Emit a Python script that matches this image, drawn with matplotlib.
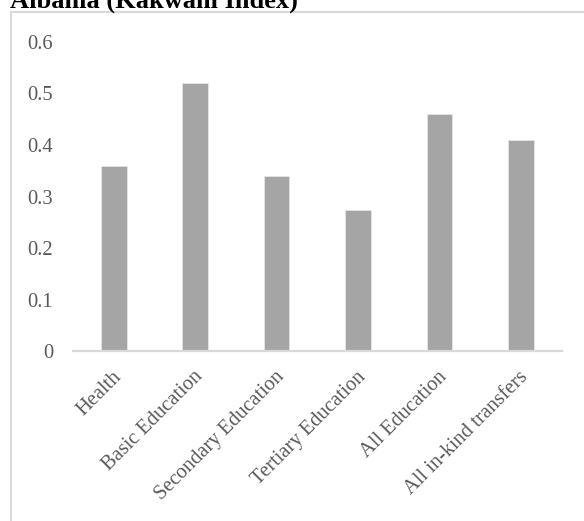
import matplotlib
matplotlib.use('Agg')
import matplotlib.pyplot as plt
import matplotlib.transforms as mtransforms
from matplotlib.lines import Line2D

categories = ['Health', 'Basic Education', 'Secondary Education',
              'Tertiary Education', 'All Education', 'All in-kind transfers']
kakwani = [0.36, 0.52, 0.34, 0.274, 0.46, 0.41]
yticks = [0, 0.1, 0.2, 0.3, 0.4, 0.5, 0.6]
yticklabels = ['0', '0.1', '0.2', '0.3', '0.4', '0.5', '0.6']

plt.rcParams['font.family'] = ['Liberation Serif', 'DejaVu Serif']

W, H = 584, 521
fig = plt.figure(figsize=(W / 100, H / 100), dpi=100)
ax = fig.add_axes([73 / W, 1 - 351.3 / H, (561.5 - 73) / W, (351.3 - 41.7) / H])

x = range(len(categories))
ax.bar(x, kakwani, width=0.315, color='#a5a5a5', edgecolor='#e6e6e6', linewidth=0.6)

ax.set_xlim(-0.5, len(categories) - 0.5)
ax.set_ylim(0, 0.6)
ax.set_yticks(yticks)
ax.set_yticklabels(yticklabels)
ax.set_xticks(list(x))
ax.set_xticklabels(categories, rotation=45, ha='right', va='top', rotation_mode='anchor')

for side in ['top', 'right', 'left']:
    ax.spines[side].set_visible(False)
ax.spines['bottom'].set_color('#d9d9d9')
ax.spines['bottom'].set_linewidth(1.6)

ax.tick_params(axis='y', length=0, pad=14.4, labelsize=14.8, labelcolor='#595959')
ax.tick_params(axis='x', length=0, pad=11.5, labelsize=14.8, labelcolor='#595959')

# nudge rotated labels a little left
offset = mtransforms.ScaledTranslation(-2 / 100, 0, fig.dpi_scale_trans)
for lbl in ax.get_xticklabels():
    lbl.set_transform(lbl.get_transform() + offset)

# chart-area frame (cut off at right and bottom)
fx, fy = 11 / W, 1 - 12 / H
fig.add_artist(Line2D([fx, fx], [0, fy], color='#d9d9d9', lw=1.5))
fig.add_artist(Line2D([fx, 1], [fy, fy], color='#d9d9d9', lw=1.5))

fig.text(10 / W, 1 - 8 / H, 'Albania (Kakwani Index)', fontsize=19,
         fontweight='bold', va='baseline', ha='left')

fig.savefig('out.png', dpi=100)
